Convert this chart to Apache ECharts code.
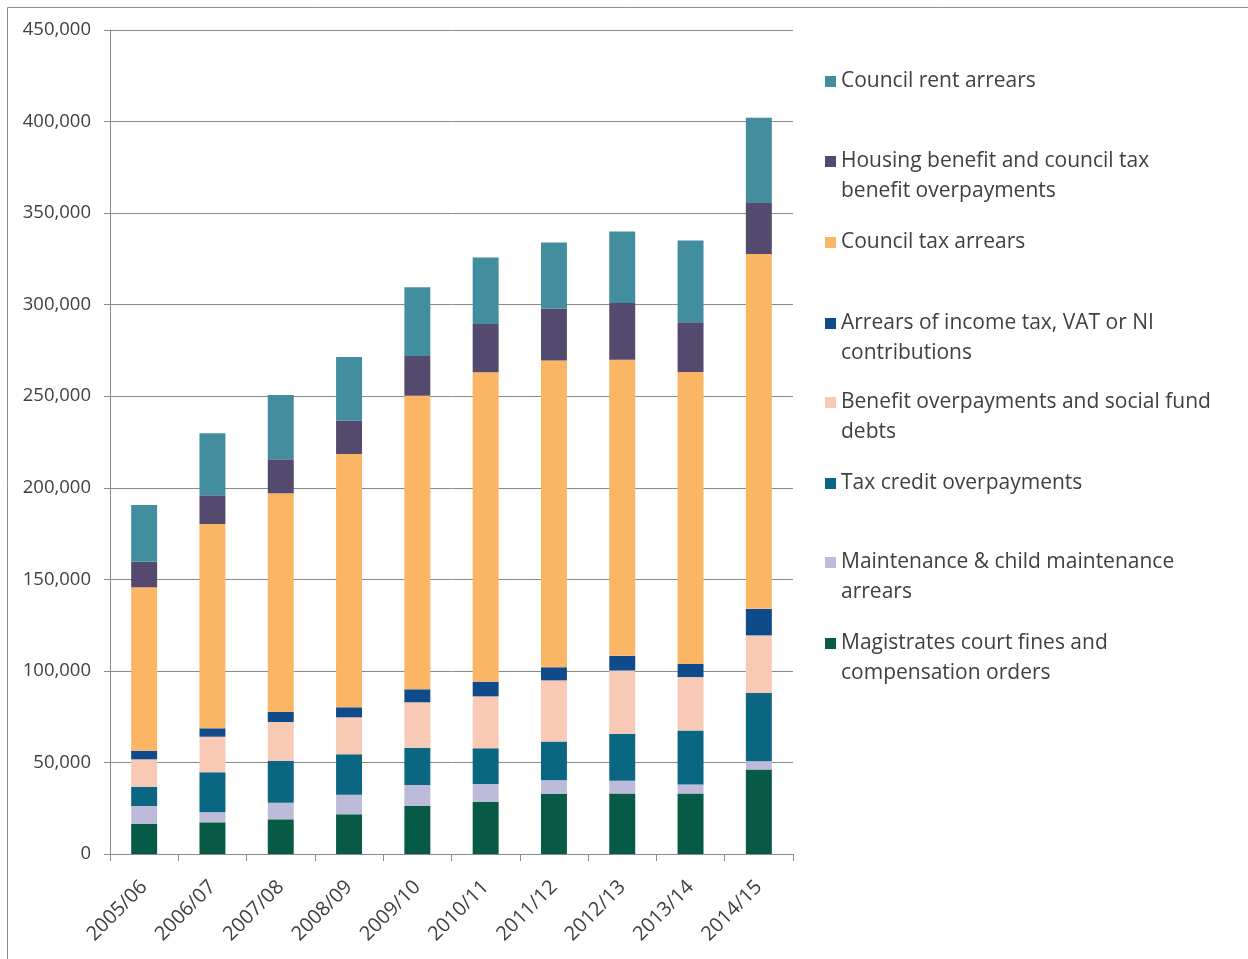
<!DOCTYPE html>
<html>
<head>
<meta charset="utf-8">
<script src="https://cdn.jsdelivr.net/npm/echarts@6/dist/echarts.min.js"></script>
<style>
html,body{margin:0;padding:0;background:#fff;}
#chart{width:1248px;height:959px;}
</style>
</head>
<body>
<div id="chart"></div>
<script>
const categories = ['2005/06','2006/07','2007/08','2008/09','2009/10','2010/11','2011/12','2012/13','2013/14','2014/15'];
const yTicks = [0, 50000, 100000, 150000, 200000, 250000, 300000, 350000, 400000, 450000];

// bottom of stack first
const magistrates   = [16400, 17300, 18950, 21680, 26210, 28600, 32850, 33070, 33070, 46160];
const maintenance   = [9800, 5470, 9070, 10700, 11470, 9600, 7360, 6910, 4910, 4460];
const taxCredit     = [10550, 21850, 22930, 22070, 20370, 19600, 21180, 25650, 29430, 37310];
const benefitOver   = [14950, 19440, 21140, 20200, 24800, 28300, 33450, 34560, 29220, 31450];
const incomeTax     = [4700, 4590, 5460, 5460, 7100, 8000, 7140, 8030, 7130, 14490];
const councilTax    = [89250, 111570, 119430, 138340, 160340, 169000, 167470, 161680, 159440, 193780];
const housingBen    = [13950, 15670, 18570, 18190, 21680, 26300, 28320, 30990, 27210, 28250];
const councilRent   = [31000, 33860, 35120, 34760, 37520, 36400, 36130, 39030, 44600, 46210];

const seriesNames = [
  'Magistrates court fines and compensation orders',
  'Maintenance & child maintenance arrears',
  'Tax credit overpayments',
  'Benefit overpayments and social fund debts',
  'Arrears of income tax, VAT or NI contributions',
  'Council tax arrears',
  'Housing benefit and council tax benefit overpayments',
  'Council rent arrears'
];
const legendLabels = [
  ['Magistrates court fines and', 'compensation orders'],
  ['Maintenance & child maintenance', 'arrears'],
  ['Tax credit overpayments'],
  ['Benefit overpayments and social fund', 'debts'],
  ['Arrears of income tax, VAT or NI', 'contributions'],
  ['Council tax arrears'],
  ['Housing benefit and council tax', 'benefit overpayments'],
  ['Council rent arrears']
];
const seriesData = [magistrates, maintenance, taxCredit, benefitOver, incomeTax, councilTax, housingBen, councilRent];
const colors = ['#075A45', '#BDBBDA', '#0B6781', '#F8CAB6', '#0F4A8A', '#FAB664', '#544A6D', '#438E9E'];

const chart = echarts.init(document.getElementById('chart'));
const FONT = "'Open Sans', sans-serif";
const TXT = '#404040';
const LH = 29.5;
// marker centre y for legend items, top to bottom (Council rent arrears first)
const legendCentres = [81.5, 161.5, 242.5, 323.5, 402.5, 483.5, 562.5, 643.5];

const legends = [];
for (let k = 0; k < 8; k++) {
  const idx = 7 - k;
  const lines = legendLabels[idx];
  const multi = lines.length > 1;
  const top = multi ? legendCentres[k] - 1.5 * LH : legendCentres[k] - LH / 2;
  legends.push({
    data: [seriesNames[idx]],
    left: 825,
    top: top,
    padding: 0,
    orient: 'vertical',
    icon: 'rect',
    itemWidth: 11,
    itemHeight: 11,
    selectedMode: false,
    formatter: () => multi ? '\n' + lines.join('\n') : lines[0],
    textStyle: { fontFamily: FONT, fontSize: 21, color: TXT, lineHeight: LH }
  });
}

const series = seriesData.map((d, i) => ({
  name: seriesNames[i],
  type: 'bar',
  stack: 'total',
  data: d,
  barCategoryGap: '62%',
  itemStyle: { color: colors[i] },
  emphasis: { disabled: true }
}));

chart.setOption({
  animation: false,
  backgroundColor: '#ffffff',
  legend: legends,
  grid: { left: 110, right: 455, top: 30, bottom: 105, containLabel: false },
  xAxis: {
    type: 'category',
    data: categories,
    axisLine: { show: true, lineStyle: { color: '#8a8a8a', width: 1 } },
    axisTick: { show: true, length: 7, lineStyle: { color: '#8a8a8a' } },
    axisLabel: { rotate: 45, margin: 30, fontFamily: FONT, fontSize: 20, color: TXT, interval: 0 }
  },
  yAxis: {
    type: 'value',
    min: yTicks[0],
    max: yTicks[yTicks.length - 1],
    interval: yTicks[1] - yTicks[0],
    axisLine: { show: true, lineStyle: { color: '#8a8a8a', width: 1 } },
    axisTick: { show: true, length: 6, lineStyle: { color: '#8a8a8a' } },
    splitLine: { show: true, lineStyle: { color: '#8a8a8a', width: 1 } },
    axisLabel: { margin: 19, fontFamily: FONT, fontSize: 18.5, color: TXT,
      formatter: v => v.toLocaleString('en-US') }
  },
  graphic: [{
    type: 'rect',
    silent: true,
    shape: { x: 7.5, y: 7.5, width: 1300, height: 1000 },
    style: { fill: 'none', stroke: '#8c8c8c', lineWidth: 1 }
  }],
  series: series
});
</script>
</body>
</html>
